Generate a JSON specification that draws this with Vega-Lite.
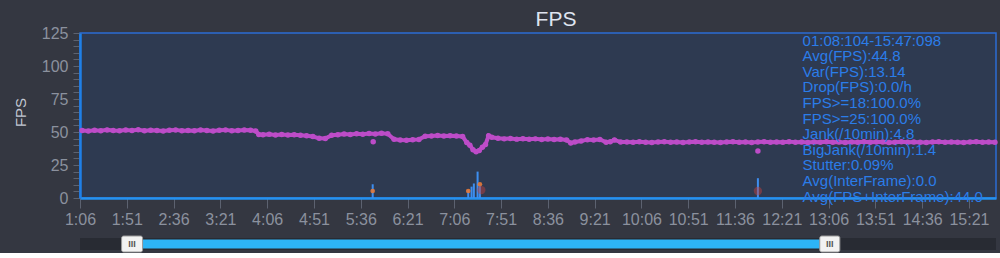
{
  "$schema": "https://vega.github.io/schema/vega-lite/v6.json",
  "background": "#343741",
  "padding": {"left": 12, "top": 8, "right": 0, "bottom": 0},
  "config": {
    "font": "Liberation Sans",
    "view": {"fill": "#2e3a51", "stroke": "#2b6cd4", "strokeWidth": 1.5},
    "axisY": {"labelOverlap": false, "labelFlush": false}
  },
  "datasets": {
    "fps": [
      {"t": 68, "value": 51.2}, {"t": 74, "value": 50.8}, {"t": 80, "value": 51.4}, {"t": 86, "value": 51.0}, {"t": 92, "value": 51.6},
      {"t": 98, "value": 51.1}, {"t": 104, "value": 50.9}, {"t": 110, "value": 51.5}, {"t": 116, "value": 51.2}, {"t": 122, "value": 51.7},
      {"t": 128, "value": 51.0}, {"t": 134, "value": 51.4}, {"t": 140, "value": 51.1}, {"t": 146, "value": 50.8}, {"t": 152, "value": 51.3},
      {"t": 158, "value": 51.6}, {"t": 164, "value": 51.0}, {"t": 170, "value": 51.2}, {"t": 176, "value": 50.9}, {"t": 182, "value": 51.5},
      {"t": 188, "value": 51.1}, {"t": 194, "value": 50.8}, {"t": 200, "value": 51.3}, {"t": 206, "value": 51.6}, {"t": 212, "value": 51.0},
      {"t": 218, "value": 51.2}, {"t": 224, "value": 51.5}, {"t": 230, "value": 51.3}, {"t": 235, "value": 50.8}, {"t": 238, "value": 48.1},
      {"t": 242, "value": 47.9}, {"t": 248, "value": 48.3}, {"t": 254, "value": 47.8}, {"t": 260, "value": 48.1}, {"t": 266, "value": 47.7},
      {"t": 272, "value": 48.0}, {"t": 278, "value": 47.5}, {"t": 284, "value": 47.2}, {"t": 290, "value": 46.6}, {"t": 296, "value": 45.2},
      {"t": 302, "value": 45.0}, {"t": 308, "value": 47.6}, {"t": 314, "value": 48.0}, {"t": 320, "value": 48.4}, {"t": 326, "value": 48.1},
      {"t": 332, "value": 48.7}, {"t": 338, "value": 48.3}, {"t": 344, "value": 48.9}, {"t": 350, "value": 48.5}, {"t": 356, "value": 49.0},
      {"t": 362, "value": 48.6}, {"t": 368, "value": 44.5}, {"t": 374, "value": 44.0}, {"t": 380, "value": 43.8}, {"t": 386, "value": 44.2},
      {"t": 392, "value": 44.4}, {"t": 398, "value": 46.8}, {"t": 404, "value": 47.0}, {"t": 410, "value": 47.3}, {"t": 416, "value": 46.9},
      {"t": 422, "value": 47.2}, {"t": 428, "value": 47.0}, {"t": 434, "value": 46.6}, {"t": 438, "value": 42.0}, {"t": 441, "value": 40.0},
      {"t": 444, "value": 36.5}, {"t": 447, "value": 35.0}, {"t": 450, "value": 36.0}, {"t": 453, "value": 38.5}, {"t": 456, "value": 40.5},
      {"t": 459, "value": 47.2}, {"t": 462, "value": 46.0}, {"t": 468, "value": 45.2}, {"t": 474, "value": 44.8}, {"t": 480, "value": 45.0},
      {"t": 486, "value": 44.6}, {"t": 492, "value": 44.9}, {"t": 498, "value": 44.5}, {"t": 504, "value": 44.8}, {"t": 510, "value": 44.4},
      {"t": 516, "value": 44.7}, {"t": 522, "value": 44.3}, {"t": 528, "value": 44.5}, {"t": 534, "value": 44.0}, {"t": 538, "value": 41.6},
      {"t": 542, "value": 42.5}, {"t": 548, "value": 43.2}, {"t": 554, "value": 44.2}, {"t": 560, "value": 44.0}, {"t": 566, "value": 44.3},
      {"t": 572, "value": 42.3}, {"t": 576, "value": 42.6}, {"t": 580, "value": 44.0}, {"t": 586, "value": 42.4}, {"t": 592, "value": 42.5},
      {"t": 598, "value": 42.2}, {"t": 604, "value": 42.6}, {"t": 610, "value": 42.3}, {"t": 616, "value": 42.0}, {"t": 622, "value": 42.4},
      {"t": 628, "value": 42.7}, {"t": 634, "value": 42.2}, {"t": 640, "value": 42.5}, {"t": 646, "value": 42.1}, {"t": 652, "value": 42.4},
      {"t": 658, "value": 42.6}, {"t": 664, "value": 42.2}, {"t": 670, "value": 42.5}, {"t": 676, "value": 42.3}, {"t": 682, "value": 42.0},
      {"t": 688, "value": 42.4}, {"t": 694, "value": 42.6}, {"t": 700, "value": 42.3}, {"t": 706, "value": 42.5}, {"t": 712, "value": 42.1},
      {"t": 718, "value": 42.4}, {"t": 724, "value": 42.6}, {"t": 730, "value": 42.2}, {"t": 736, "value": 42.5}, {"t": 742, "value": 42.3},
      {"t": 748, "value": 42.7}, {"t": 754, "value": 42.2}, {"t": 760, "value": 42.4}, {"t": 766, "value": 42.1}, {"t": 772, "value": 42.5},
      {"t": 778, "value": 42.3}, {"t": 784, "value": 42.6}, {"t": 790, "value": 42.2}, {"t": 796, "value": 42.4}, {"t": 802, "value": 42.0},
      {"t": 808, "value": 42.5}, {"t": 814, "value": 42.3}, {"t": 820, "value": 42.6}, {"t": 826, "value": 42.2}, {"t": 832, "value": 42.4},
      {"t": 838, "value": 42.5}, {"t": 844, "value": 42.1}, {"t": 850, "value": 42.3}, {"t": 856, "value": 42.6}, {"t": 862, "value": 42.2},
      {"t": 868, "value": 42.5}, {"t": 874, "value": 42.3}, {"t": 880, "value": 42.0}, {"t": 886, "value": 42.4}, {"t": 892, "value": 42.6},
      {"t": 898, "value": 42.2}, {"t": 904, "value": 42.5}, {"t": 910, "value": 42.3}, {"t": 916, "value": 42.1}, {"t": 922, "value": 42.4},
      {"t": 928, "value": 42.6}, {"t": 934, "value": 42.2}, {"t": 940, "value": 42.5}, {"t": 946, "value": 42.3}
    ],
    "outliers": [
      {"t": 348, "value": 42.7},
      {"t": 718, "value": 35.6}
    ],
    "interframe": [
      {"t": 347.5, "value": 10.4},
      {"t": 439.4, "value": 6.0},
      {"t": 442.6, "value": 8.6},
      {"t": 444.8, "value": 11.0},
      {"t": 448.4, "value": 20.0},
      {"t": 450.6, "value": 9.0},
      {"t": 718, "value": 15.0}
    ],
    "jank": [
      {"t": 347.5, "value": 5.3, "kind": "jank"},
      {"t": 439.4, "value": 5.3, "kind": "jank"},
      {"t": 450.6, "value": 10.4, "kind": "jank"},
      {"t": 452.0, "value": 6.0, "kind": "bigjank"},
      {"t": 718, "value": 5.3, "kind": "bigjank"}
    ],
    "stats": [
      {"text": "01:08:104-15:47:098\nAvg(FPS):44.8\nVar(FPS):13.14\nDrop(FPS):0.0/h\nFPS>=18:100.0%\nFPS>=25:100.0%\nJank(/10min):4.8\nBigJank(/10min):1.4\nStutter:0.09%\nAvg(InterFrame):0.0\nAvg(FPS+InterFrame):44.0"}
    ],
    "slider": [
      {"part": "track", "start": 66, "end": 947, "mid": 506.5},
      {"part": "range", "start": 126.2, "end": 777.5, "mid": 451.9},
      {"part": "handle", "start": 106.0, "end": 126.2, "mid": 116.1},
      {"part": "handle", "start": 777.5, "end": 796.8, "mid": 787.2}
    ]
  },
  "vconcat": [
    {
      "width": 916,
      "height": 165,
      "title": {"text": "FPS", "fontSize": 21, "color": "#dfe4f0", "fontWeight": "normal", "offset": -5, "dx": 18, "font": "Liberation Sans"},
      "layer": [
        {
          "encoding": {
            "x": {
              "field": "t", "type": "quantitative",
              "scale": {"domain": [66, 947], "nice": false, "zero": false},
              "axis": {
                "values": [66, 111, 156, 201, 246, 291, 336, 381, 426, 471, 516, 561, 606, 651, 696, 741, 786, 831, 876, 921],
                "labelExpr": "floor(datum.value/60) + ':' + (datum.value % 60 < 10 ? '0' : '') + (datum.value % 60)",
                "title": null, "labelFontSize": 16, "labelColor": "#8b919e", "labelFont": "Liberation Sans",
                "tickSize": 10, "tickColor": "#5c6270", "labelPadding": 3,
                "domainColor": "#2592f0", "domainWidth": 2.5, "grid": false,
                "labelOverlap": false, "labelFlush": false
              }
            },
            "y": {
              "field": "value", "type": "quantitative", "title": "FPS",
              "scale": {"domain": [0, 125], "nice": false},
              "axis": {
                "values": [0, 5, 10, 15, 20, 25, 30, 35, 40, 45, 50, 55, 60, 65, 70, 75, 80, 85, 90, 95, 100, 105, 110, 115, 120, 125],
                "labelExpr": "datum.value % 25 === 0 ? datum.label : ''",
                "labelOverlap": false, "labelFlush": false,
                "titleX": -60, "titleY": 79, "titleAngle": -90, "titleAlign": "center", "titleBaseline": "middle",
                "titleFontSize": 15, "titleColor": "#c3c8d3", "titleFontWeight": "normal", "titleFont": "Liberation Sans",
                "labelFontSize": 16, "labelColor": "#8b919e", "labelFont": "Liberation Sans",
                "tickSize": 7, "tickColor": "#5c6270", "tickWidth": 1, "labelPadding": 5,
                "domainColor": "#1f80e8", "domainWidth": 2.5, "grid": false
              }
            }
          },
          "layer": [
            {
              "data": {"name": "fps"},
              "mark": {"type": "line", "color": "#bd4cc8", "strokeWidth": 4}
            },
            {
              "data": {"name": "fps"},
              "mark": {"type": "point", "filled": true, "color": "#bd4cc8", "size": 30, "opacity": 1}
            },
            {
              "data": {"name": "outliers"},
              "mark": {"type": "point", "filled": true, "color": "#bd4cc8", "size": 30, "opacity": 1}
            },
            {
              "data": {"name": "interframe"},
              "mark": {"type": "rule", "color": "#3d8ef0", "strokeWidth": 2},
              "encoding": {
                "y2": {"datum": 0}
              }
            },
            {
              "data": {"name": "jank"},
              "mark": {"type": "point", "filled": true},
              "encoding": {
                "color": {"field": "kind", "type": "nominal", "scale": {"domain": ["jank", "bigjank"], "range": ["#e57a3a", "#c8413c"]}, "legend": null},
                "size": {"field": "kind", "type": "nominal", "scale": {"domain": ["jank", "bigjank"], "range": [22, 70]}, "legend": null},
                "opacity": {"field": "kind", "type": "nominal", "scale": {"domain": ["jank", "bigjank"], "range": [0.9, 0.45]}, "legend": null}
              }
            }
          ]
        },
        {
          "data": {"name": "stats"},
          "mark": {"type": "text", "align": "left", "baseline": "top", "fontSize": 15, "lineHeight": 15.6, "lineBreak": "\n", "color": "#2b7de9", "font": "Liberation Sans"},
          "encoding": {
            "text": {"field": "text", "type": "nominal"},
            "x": {"datum": 761, "type": "quantitative"},
            "y": {
              "datum": 124.5, "type": "quantitative", "title": "FPS",
              "axis": {
                "values": [0, 5, 10, 15, 20, 25, 30, 35, 40, 45, 50, 55, 60, 65, 70, 75, 80, 85, 90, 95, 100, 105, 110, 115, 120, 125],
                "labelExpr": "datum.value % 25 === 0 ? datum.label : ''",
                "labelOverlap": false, "labelFlush": false,
                "titleX": -60, "titleY": 79, "titleAngle": -90, "titleAlign": "center", "titleBaseline": "middle",
                "titleFontSize": 15, "titleColor": "#c3c8d3", "titleFontWeight": "normal", "titleFont": "Liberation Sans",
                "labelFontSize": 16, "labelColor": "#8b919e", "labelFont": "Liberation Sans",
                "tickSize": 7, "tickColor": "#5c6270", "tickWidth": 1, "labelPadding": 5,
                "domainColor": "#1f80e8", "domainWidth": 2.5, "grid": false
              }
            }
          }
        }
      ]
    },
    {
      "width": 916,
      "height": 16,
      "view": {"fill": null, "stroke": null},
      "data": {"name": "slider"},
      "layer": [
        {
          "transform": [{"filter": "datum.part === 'track'"}],
          "mark": {"type": "rule", "color": "#282b33", "strokeWidth": 12, "strokeCap": "butt"},
          "encoding": {
            "x": {"field": "start", "type": "quantitative", "scale": {"domain": [66, 947], "nice": false, "zero": false}, "axis": null},
            "x2": {"field": "end"}
          }
        },
        {
          "transform": [{"filter": "datum.part === 'range'"}],
          "mark": {"type": "rule", "color": "#2db4f6", "strokeWidth": 9, "strokeCap": "butt"},
          "encoding": {
            "x": {"field": "start", "type": "quantitative"},
            "x2": {"field": "end"}
          }
        },
        {
          "transform": [{"filter": "datum.part === 'handle'"}],
          "mark": {"type": "rect", "fill": "#f2f2f2", "stroke": "#9a9a9a", "strokeWidth": 1, "cornerRadius": 2},
          "encoding": {
            "x": {"field": "start", "type": "quantitative"},
            "x2": {"field": "end"}
          }
        },
        {
          "transform": [{"filter": "datum.part === 'handle'"}],
          "mark": {"type": "text", "text": "III", "fontSize": 9, "fontWeight": "bold", "color": "#555555", "align": "center", "baseline": "middle", "font": "Liberation Sans"},
          "encoding": {
            "x": {"field": "mid", "type": "quantitative"}
          }
        }
      ]
    }
  ],
  "spacing": 38,
  "bounds": "flush",
  "resolve": {"scale": {"x": "independent"}, "axis": {"x": "independent"}}
}
